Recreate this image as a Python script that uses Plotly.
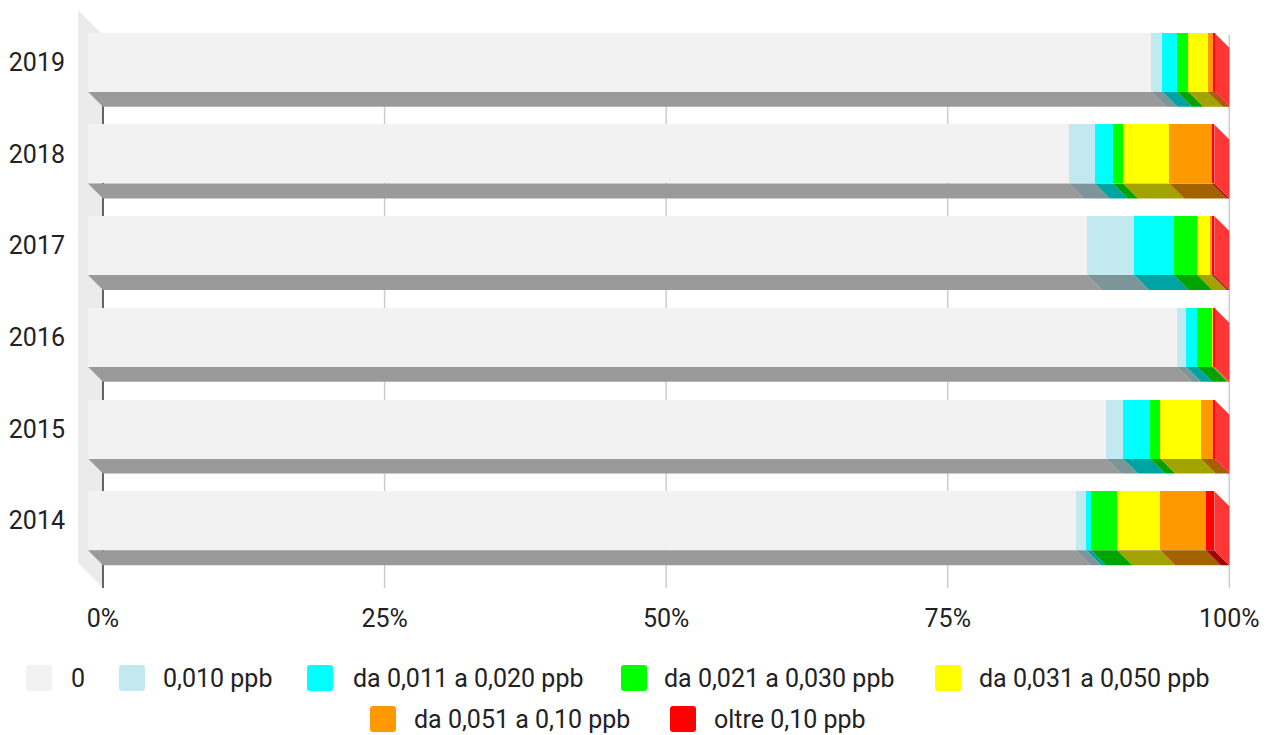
import plotly.graph_objects as go

# ---- data -------------------------------------------------------------
years = ["2014", "2015", "2016", "2017", "2018", "2019"]
class_names = [
    "0",
    "0,010 ppb",
    "da 0,011 a 0,020 ppb",
    "da 0,021 a 0,030 ppb",
    "da 0,031 a 0,050 ppb",
    "da 0,051 a 0,10 ppb",
    "oltre 0,10 ppb",
]
# share of samples (%) per concentration class, in year order
pct_0 = [87.7, 90.4, 96.7, 88.7, 87.1, 94.4]
pct_010 = [0.95, 1.5, 0.8, 4.2, 2.3, 1.0]
pct_011_020 = [0.4, 2.4, 1.0, 3.5, 1.6, 1.3]
pct_021_030 = [2.35, 0.9, 1.35, 2.1, 0.9, 1.0]
pct_031_050 = [3.8, 3.6, 0.1, 1.2, 4.1, 1.7]
pct_051_100 = [4.05, 1.1, 0.0, 0.15, 3.8, 0.5]
pct_over_100 = [0.75, 0.1, 0.05, 0.15, 0.2, 0.1]
x_tick_values = [0, 25, 50, 75, 100]
x_tick_labels = ["0%", "25%", "50%", "75%", "100%"]

series = [pct_0, pct_010, pct_011_020, pct_021_030, pct_031_050, pct_051_100, pct_over_100]

# ---- styling ----------------------------------------------------------
face_colors = ["#f2f2f2", "#c1e9ef", "#00ffff", "#00ff00", "#ffff00", "#ff9900", "#ff0000"]
side_color = "#ff3636"
wall_color = "#ebebeb"
grid_color = "#cccccc"
axis_color = "#333333"
text_color = "#222222"
FONT = "Roboto"
FS = 25


def shade(hex_color, k=0.64):
    h = hex_color.lstrip("#")
    r, g, b = (int(h[i:i + 2], 16) for i in (0, 2, 4))
    return "#%02x%02x%02x" % (int(r * k), int(g * k), int(b * k))


bottom_colors = [shade(c) for c in face_colors]

# ---- page geometry (pixels) --------------------------------------------
W, H = 1277, 735
L, R, T, B = 76, 1232, 8, 592          # plot area
X0_PX = 103                           # 0 % on the back plane
PX_PER_PCT = 11.263
TOP_ROW_PX = 62.2                     # centre of the top bar's front face
PX_PER_ROW = 91.7
BAR_PX = 59
DEPTH_PX = 15                         # bar depth
WALL_DEPTH_PX = 25
BACK_TOP_PX, BACK_BOTTOM_PX = 35, 588

n = len(years)
dx = DEPTH_PX / PX_PER_PCT
dy = DEPTH_PX / PX_PER_ROW
bar_w = BAR_PX / PX_PER_ROW


def px_to_y(py):
    return (n - 1) + (TOP_ROW_PX - py) / PX_PER_ROW


x_range = [(L - X0_PX) / PX_PER_PCT, (R - X0_PX) / PX_PER_PCT]
y_range = [px_to_y(B), px_to_y(T)]

fig = go.Figure()
shapes = []

# left wall of the 3D box
wx = -WALL_DEPTH_PX / PX_PER_PCT
wdy = WALL_DEPTH_PX / PX_PER_ROW
yt, yb = px_to_y(BACK_TOP_PX), px_to_y(BACK_BOTTOM_PX)
shapes.append(dict(
    type="path", xref="x", yref="y", layer="below", line=dict(width=0),
    fillcolor=wall_color,
    path=f"M {wx},{yt + wdy} L 0,{yt} L 0,{yb} L {wx},{yb + wdy} Z",
))

# grid lines on the back plane
for v in x_tick_values:
    shapes.append(dict(
        type="line", xref="x", yref="y", layer="below",
        x0=v, x1=v, y0=yb, y1=yt,
        line=dict(color=axis_color if v == 0 else grid_color, width=1.5),
    ))

# front faces as stacked horizontal bars (front plane is shifted by the depth)
cum = [0.0] * n
for k, (name, vals) in enumerate(zip(class_names, series)):
    base = [c - dx for c in cum]
    fig.add_trace(go.Bar(
        y=list(range(n)), x=vals, base=base, orientation="h", width=bar_w,
        name=name, marker=dict(color=face_colors[k], line=dict(width=0)),
        showlegend=False, hoverinfo="skip",
    ))
    # bottom face of each segment
    for i in range(n):
        a, b = cum[i], cum[i] + vals[i]
        if vals[i] <= 0:
            continue
        y_edge = i - bar_w / 2
        shapes.append(dict(
            type="path", xref="x", yref="y", layer="below", line=dict(width=0),
            fillcolor=bottom_colors[k],
            path=(f"M {a - dx},{y_edge} L {b - dx},{y_edge} "
                  f"L {b},{y_edge - dy} L {a},{y_edge - dy} Z"),
        ))
    cum = [c + v for c, v in zip(cum, vals)]

# right side face of each stack
for i in range(n):
    end = cum[i]
    top, bot = i + bar_w / 2, i - bar_w / 2
    shapes.append(dict(
        type="path", xref="x", yref="y", layer="below", line=dict(width=0),
        fillcolor=side_color,
        path=(f"M {end - dx},{top} L {end},{top - dy} "
              f"L {end},{bot - dy} L {end - dx},{bot} Z"),
    ))

# ---- legend (two centred rows) ----------------------------------------
PW, PH = R - L, B - T


def px_x(px):
    return (px - L) / PW


def px_y(py):
    return (B - py) / PH


legend_rows = {0: 678, 1: 719}
# (row, square left edge, text left edge) per class
legend_slots = [(0, 26, 69), (0, 119, 161), (0, 307, 351), (0, 621, 662),
                (0, 935, 977), (1, 370, 412), (1, 670, 712)]
SQ = 26
RAD = 3
annotations = []
for k, (row, sx, tx) in enumerate(legend_slots):
    cy = legend_rows[row]
    x1, x2 = sx, sx + SQ
    y1, y2 = cy - SQ / 2, cy + SQ / 2
    pts = [
        (x1 + RAD, y1), (x2 - RAD, y1), (x2, y1), (x2, y1 + RAD),
        (x2, y2 - RAD), (x2, y2), (x2 - RAD, y2), (x1 + RAD, y2),
        (x1, y2), (x1, y2 - RAD), (x1, y1 + RAD), (x1, y1),
    ]
    P = [(px_x(a), px_y(b)) for a, b in pts]
    path = (f"M {P[0][0]},{P[0][1]} L {P[1][0]},{P[1][1]} Q {P[2][0]},{P[2][1]} {P[3][0]},{P[3][1]} "
            f"L {P[4][0]},{P[4][1]} Q {P[5][0]},{P[5][1]} {P[6][0]},{P[6][1]} "
            f"L {P[7][0]},{P[7][1]} Q {P[8][0]},{P[8][1]} {P[9][0]},{P[9][1]} "
            f"L {P[10][0]},{P[10][1]} Q {P[11][0]},{P[11][1]} {P[0][0]},{P[0][1]} Z")
    shapes.append(dict(type="path", xref="paper", yref="paper", path=path,
                       fillcolor=face_colors[k], line=dict(width=0)))
    annotations.append(dict(
        x=px_x(tx), y=px_y(cy), xref="paper", yref="paper", text=class_names[k],
        showarrow=False, xanchor="left", yanchor="middle",
        font=dict(family=FONT, size=FS, color=text_color),
    ))

fig.update_layout(
    width=W, height=H,
    margin=dict(l=L, r=W - R, t=T, b=H - B, pad=0),
    paper_bgcolor="white", plot_bgcolor="white",
    barmode="overlay", bargap=0,
    shapes=shapes, annotations=annotations,
    showlegend=False,
    font=dict(family=FONT, size=FS, color=text_color),
    xaxis=dict(
        range=x_range, tickvals=x_tick_values, ticktext=x_tick_labels,
        showgrid=False, zeroline=False, showline=False, ticks="",
        ticklabelstandoff=9, tickfont=dict(family=FONT, size=FS, color=text_color),
        fixedrange=True,
    ),
    yaxis=dict(
        range=y_range, tickvals=list(range(n)), ticktext=years,
        showgrid=False, zeroline=False, showline=False, ticks="",
        ticklabelstandoff=10, tickfont=dict(family=FONT, size=FS, color=text_color),
        fixedrange=True,
    ),
)

fig.write_html("out.html")
